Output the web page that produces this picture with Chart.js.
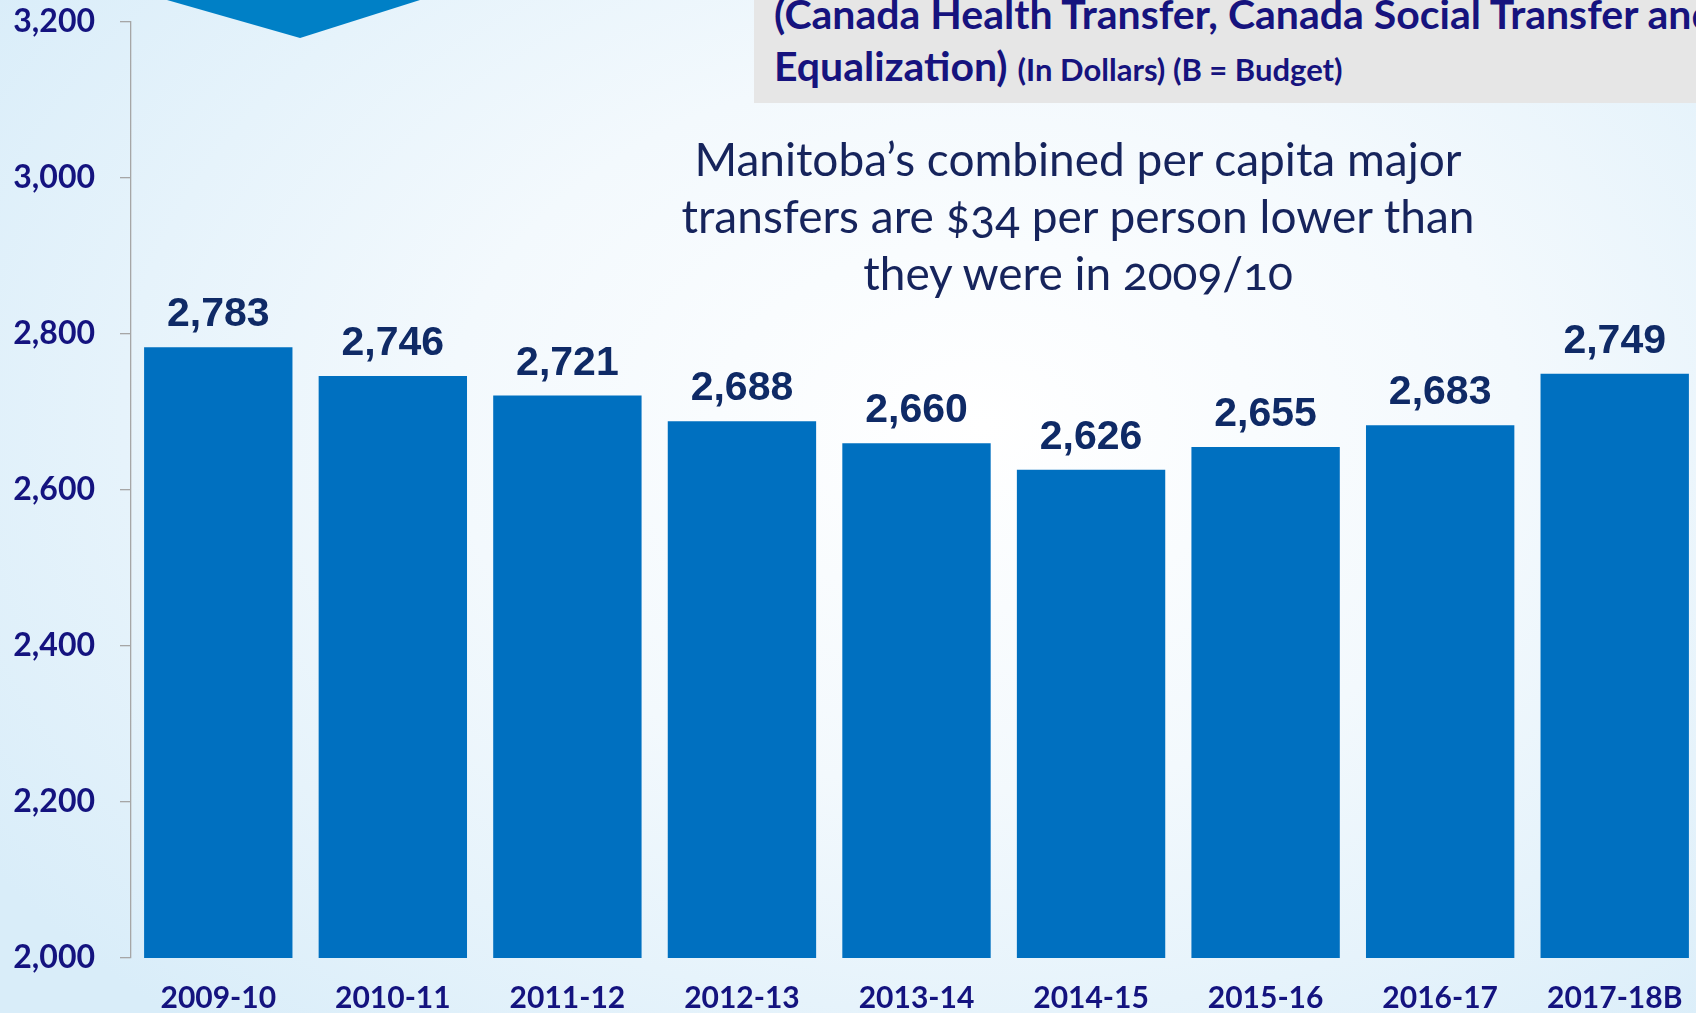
<!DOCTYPE html>
<html lang="en">
<head>
<meta charset="UTF-8">
<title>Manitoba Major Transfers Per Capita</title>
<script src="https://cdn.jsdelivr.net/npm/chart.js"></script>
<style>
    html, body {
        margin: 0;
        padding: 0;
        width: 1696px;
        height: 1013px;
        overflow: hidden;
    }
    body {
        position: relative;
        font-family: Lato, "Open Sans", sans-serif;
        background: radial-gradient(ellipse 70% 80% at 58% 42%, #ffffff 0%, #f3f9fd 45%, #d9edf9 100%);
    }
    .chart-wrap {
        position: absolute;
        left: 0;
        top: 0;
        width: 1702px;
        height: 1013px;
    }
    .arrow {
        position: absolute;
        left: 167px;
        top: 0;
        width: 253px;
        height: 38px;
        background: #0080c6;
        clip-path: polygon(0 0, 100% 0, 52.6% 100%);
    }
    .title-box {
        position: absolute;
        left: 754px;
        top: 0;
        right: 0;
        height: 103px;
        background: #e6e6e6;
        overflow: hidden;
        white-space: nowrap;
        color: #16137e;
        font-weight: bold;
    }
    .title-box .lines {
        position: absolute;
        left: 20px;
        top: -12px;
        font-size: 41px;
        line-height: 52px;
    }
    .title-box .small {
        font-size: 31px;
    }
    .note {
        position: absolute;
        left: 578px;
        top: 130px;
        width: 1000px;
        text-align: center;
        font-size: 46px;
        line-height: 57px;
        color: #16245c;
        font-feature-settings: "onum";
    }
</style>
</head>
<body>
<div class="chart-wrap">
    <canvas id="transferChart" width="1702" height="1013"></canvas>
</div>
<div class="arrow"></div>
<div class="title-box">
    <div class="lines">
        (Canada Health Transfer, Canada Social Transfer and<br>
        Equalization) <span class="small">(In Dollars) (B = Budget)</span>
    </div>
</div>
<div class="note">
    Manitoba’s combined per capita major<br>
    transfers are $34 per person lower than<br>
    they were in 2009/10
</div>

<script>
    // fiscal years
    const years = ['2009-10', '2010-11', '2011-12', '2012-13', '2013-14', '2014-15', '2015-16', '2016-17', '2017-18B'];
    // combined per capita major transfers, dollars
    const perCapita = [2783, 2746, 2721, 2688, 2660, 2626, 2655, 2683, 2749];
    // y axis range
    const yMin = 2000;
    const yMax = 3200;
    const yStep = 200;

    const navy = '#14137f';

    // value labels above each bar
    const barLabels = {
        id: 'barLabels',
        afterDatasetsDraw(chart) {
            const ctx = chart.ctx;
            const meta = chart.getDatasetMeta(0);
            ctx.save();
            ctx.font = 'bold 41px "Liberation Sans", Arial, sans-serif';
            ctx.fillStyle = '#0f2a66';
            ctx.textAlign = 'center';
            ctx.textBaseline = 'alphabetic';
            meta.data.forEach((bar, i) => {
                ctx.fillText(perCapita[i].toLocaleString('en-US'), bar.x, bar.y - 21);
            });
            ctx.restore();
        }
    };

    new Chart(document.getElementById('transferChart'), {
        type: 'bar',
        data: {
            labels: years,
            datasets: [{
                data: perCapita,
                backgroundColor: '#0070c0',
                barPercentage: 0.85,
                categoryPercentage: 1.0
            }]
        },
        options: {
            responsive: false,
            animation: false,
            layout: {
                padding: 0
            },
            plugins: {
                legend: { display: false },
                tooltip: { enabled: false }
            },
            scales: {
                x: {
                    grid: { display: false },
                    border: { display: false },
                    ticks: {
                        color: navy,
                        font: { family: 'Lato', weight: 'bold', size: 30 },
                        padding: 14,
                        maxRotation: 0
                    },
                    afterFit(scale) {
                        scale.height = 55;
                    }
                },
                y: {
                    min: yMin,
                    max: yMax,
                    grid: {
                        drawOnChartArea: false,
                        tickLength: 11,
                        color: '#a6a6a6',
                        lineWidth: 1.3
                    },
                    border: { color: '#a6a6a6', width: 1.3 },
                    ticks: {
                        stepSize: yStep,
                        color: navy,
                        font: { family: 'Lato', weight: 'bold', size: 32 },
                        padding: 25,
                        callback: v => v.toLocaleString('en-US')
                    },
                    afterFit(scale) {
                        scale.width = 131;
                        scale.paddingTop = 22;
                        scale.paddingBottom = 0;
                    }
                }
            }
        },
        plugins: [barLabels]
    });
</script>
</body>
</html>
